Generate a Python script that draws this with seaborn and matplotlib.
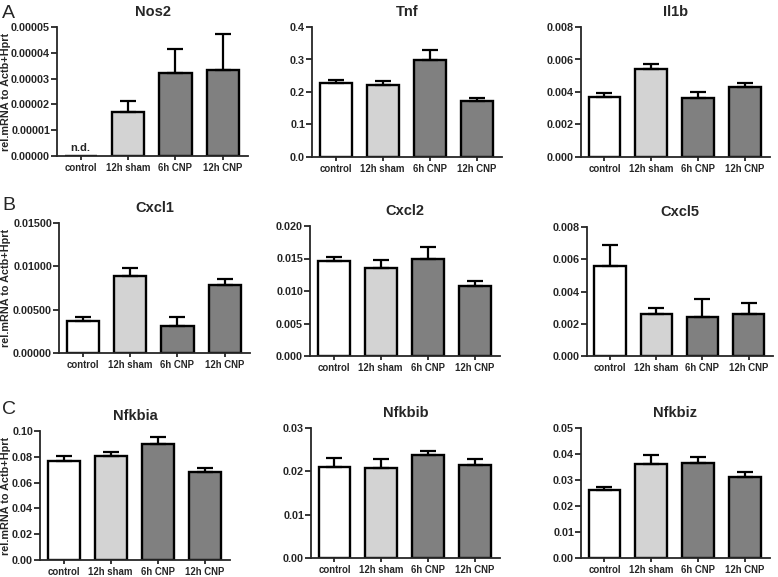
import numpy as np
import seaborn as sns
import matplotlib.pyplot as plt
from matplotlib.ticker import FormatStrFormatter, MultipleLocator

# groups and bar colours
groups = ['control', '12h sham', '6h CNP', '12h CNP']
colors = ['#ffffff', '#d3d3d3', '#808080', '#808080']

genes = ['Nos2', 'Tnf', 'Il1b', 'Cxcl1', 'Cxcl2', 'Cxcl5', 'Nfkbia', 'Nfkbib', 'Nfkbiz']

# mean values
nos2 = [0.0, 1.70e-5, 3.22e-5, 3.33e-5]
tnf = [0.228, 0.223, 0.297, 0.171]
il1b = [0.00368, 0.00543, 0.00362, 0.00432]
cxcl1 = [0.00375, 0.0089, 0.0031, 0.0078]
cxcl2 = [0.0146, 0.0135, 0.0149, 0.0108]
cxcl5 = [0.0056, 0.0026, 0.00243, 0.0026]
nfkbia = [0.0771, 0.0807, 0.0897, 0.0686]
nfkbib = [0.0209, 0.0207, 0.0238, 0.0215]
nfkbiz = [0.0260, 0.0360, 0.0364, 0.0313]

# upper error (SEM)
nos2_err = [0.0, 0.44e-5, 0.93e-5, 1.39e-5]
tnf_err = [0.008, 0.012, 0.033, 0.011]
il1b_err = [0.00024, 0.0003, 0.0004, 0.00023]
cxcl1_err = [0.00045, 0.0009, 0.0011, 0.0007]
cxcl2_err = [0.0006, 0.0013, 0.0019, 0.0008]
cxcl5_err = [0.0013, 0.00035, 0.0011, 0.00068]
nfkbia_err = [0.0039, 0.0033, 0.0054, 0.0026]
nfkbib_err = [0.0022, 0.0022, 0.0009, 0.0013]
nfkbiz_err = [0.0015, 0.0035, 0.0026, 0.0018]

means = [nos2, tnf, il1b, cxcl1, cxcl2, cxcl5, nfkbia, nfkbib, nfkbiz]
errs = [nos2_err, tnf_err, il1b_err, cxcl1_err, cxcl2_err, cxcl5_err,
        nfkbia_err, nfkbib_err, nfkbiz_err]

# y axis: top, tick step, tick label format
ymax = [5e-5, 0.4, 0.008, 0.015, 0.020, 0.008, 0.10, 0.03, 0.05]
ystep = [1e-5, 0.1, 0.002, 0.005, 0.005, 0.002, 0.02, 0.01, 0.01]
yfmt = ['%.5f', '%.1f', '%.3f', '%.5f', '%.3f', '%.3f', '%.2f', '%.2f', '%.2f']

# axes boxes in pixels: left, top, right, bottom
boxes = [(57, 27, 248, 156), (312, 27, 502, 157), (581, 27, 770, 157),
         (59, 223, 250, 353), (310, 226, 500, 356), (587, 227, 773, 356),
         (40, 431, 230, 560), (311, 428, 500, 558), (581, 428, 770, 558)]

W, H = 778, 577

sns.set_style('ticks')
plt.rcParams['font.family'] = ['Liberation Sans', 'DejaVu Sans']
plt.rcParams['font.weight'] = 'bold'

fig = plt.figure(figsize=(W / 100, H / 100), dpi=100)

for i, gene in enumerate(genes):
    l, t, r, b = boxes[i]
    ax = fig.add_axes([l / W, 1 - b / H, (r - l) / W, (b - t) / H])
    sns.barplot(x=groups, y=means[i], hue=groups, palette=colors, width=0.68,
                edgecolor='black', linewidth=1.7, saturation=1, legend=False, ax=ax)
    m = np.array(means[i])
    e = np.array(errs[i])
    idx = np.where(m > 0)[0]
    ax.errorbar(idx, m[idx], yerr=[np.zeros(len(idx)), e[idx]], fmt='none',
                ecolor='black', elinewidth=1.6, capsize=6, capthick=1.6, zorder=1)
    ax.set_xlim(-0.5, 3.53)
    ax.set_ylim(0, ymax[i])
    ax.yaxis.set_major_locator(MultipleLocator(ystep[i]))
    ax.yaxis.set_major_formatter(FormatStrFormatter(yfmt[i]))
    ax.set_xlabel('')
    ax.set_ylabel('')
    sns.despine(ax=ax)
    for s in ['left', 'bottom']:
        ax.spines[s].set_linewidth(1.3)
    ax.tick_params(axis='y', labelsize=7.8, length=4, width=1.3, pad=1)
    ax.tick_params(axis='x', labelsize=6.9, length=3, width=1.3, pad=2)
    for lab in ax.get_xticklabels() + ax.get_yticklabels():
        lab.set_fontweight('bold')
    ax.set_title(gene, fontsize=10.5, fontweight='bold', pad=8)
    if gene == 'Nos2':
        ax.text(0, ymax[i] * 0.02, 'n.d.', ha='center', va='bottom',
                fontsize=8, fontweight='bold')
    if i % 3 == 0:
        fig.text(6 / W, 1 - (t + b) / 2 / H, 'rel.mRNA to Actb+Hprt', rotation=90,
                 ha='center', va='center', fontsize=7.8, fontweight='bold')

# panel letters
for letter, y in zip(['A', 'B', 'C'], [13, 205, 409]):
    fig.text(2 / W, 1 - y / H, letter, ha='left', va='center',
             fontsize=14, fontweight='normal')

plt.savefig('out.png', dpi=100)
plt.close()
